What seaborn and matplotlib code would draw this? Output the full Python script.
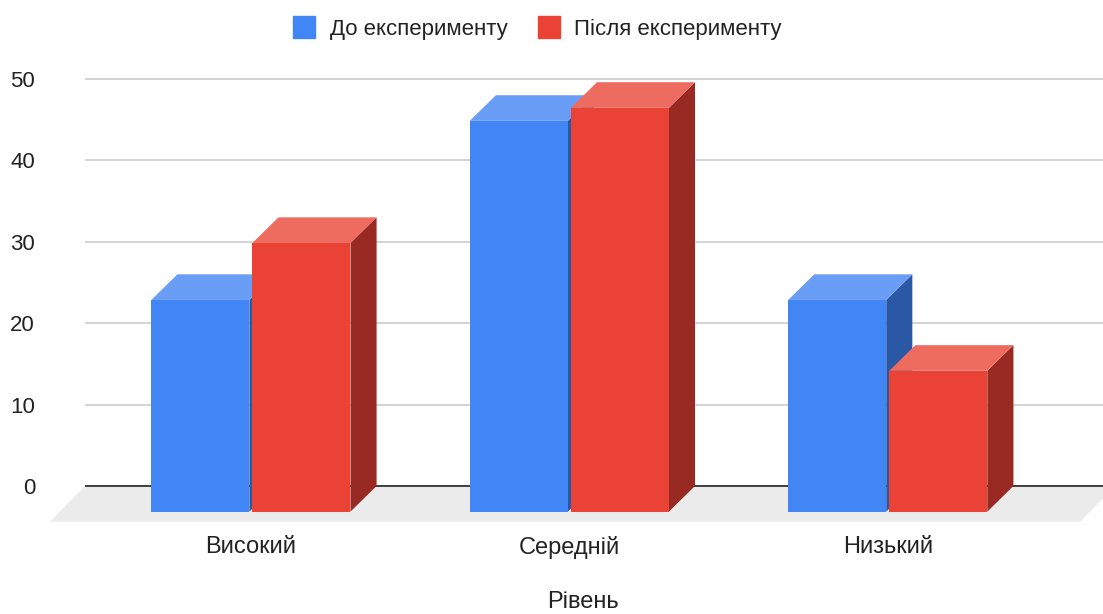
import pandas as pd
import seaborn as sns
import matplotlib.pyplot as plt
from matplotlib.patches import Polygon
from matplotlib.lines import Line2D

# Data (values read from the front faces of the 3D bars)
levels = ["Високий", "Середній", "Низький"]
series = ["До експерименту", "Після експерименту"]
before = [26, 48, 26]
after = [33, 49.6, 17.3]
y_ticks = [0, 10, 20, 30, 40, 50]

df = pd.DataFrame({
    "Рівень": levels * 2,
    "Серія": [series[0]] * len(levels) + [series[1]] * len(levels),
    "Значення": before + after,
})

# Google-Sheets-like colours: front / top / side
front = {series[0]: "#4285F4", series[1]: "#EA4335"}
top = {series[0]: "#6A9EF6", series[1]: "#EE6B60"}
side = {series[0]: "#2B58A5", series[1]: "#982A23"}

sns.set_theme(style="white")
plt.rcParams["font.family"] = ["Liberation Sans", "DejaVu Sans"]

W, H = 1103, 614
fig = plt.figure(figsize=(W / 100, H / 100), dpi=100)
# plot box in pixels: left, right, top, bottom
bl, br, bt, bb = 85, 1103, 70, 530
ax = fig.add_axes([bl / W, 1 - bb / H, (br - bl) / W, (bb - bt) / H])

# 3D depth of the bars and of the floor, in data units
DX, DY = 0.082, 3.15
FX, FY = 0.11, 4.39

sns.barplot(data=df, x="Рівень", y="Значення", hue="Серія", palette=front,
            width=0.635, gap=0.03, saturation=1, legend=False, linewidth=0, ax=ax)

ax.set_xlim(-0.603, 2.594)
ax.set_ylim(-5.41, 51.1)

for k, (name, cont) in enumerate(zip(series, ax.containers)):
    for bar in cont:
        x0, w, h = bar.get_x(), bar.get_width(), bar.get_height()
        bar.set_x(x0 - DX)
        bar.set_y(-DY)
        bar.set_zorder(3 + 2 * k + 0.2)
        bar.set_clip_on(False)
        top_face = Polygon([(x0 - DX, h - DY), (x0 - DX + w, h - DY), (x0 + w, h), (x0, h)],
                           closed=True, facecolor=top[name], lw=0, zorder=3 + 2 * k + 0.1)
        side_face = Polygon([(x0 - DX + w, -DY), (x0 - DX + w, h - DY), (x0 + w, h), (x0 + w, 0)],
                            closed=True, facecolor=side[name], lw=0, zorder=3 + 2 * k)
        ax.add_patch(side_face)
        ax.add_patch(top_face)

# floor
xl, xr = -0.603, 2.632
floor = Polygon([(xl, 0), (xr, 0), (xr - FX, -FY), (xl - FX, -FY)], closed=True,
                facecolor="#EBEBEB", lw=0, zorder=1, clip_on=False)
ax.add_patch(floor)
ax.axhline(0, color="#333333", lw=1.3, zorder=2)

ax.set_yticks(y_ticks)
ax.set_xticks([i - DX for i in range(len(levels))], labels=levels)
ax.yaxis.grid(True, color="#CCCCCC", lw=1.2)
ax.xaxis.grid(False)
ax.set_axisbelow(True)
for s in ax.spines.values():
    s.set_visible(False)
ax.tick_params(axis="y", length=0, pad=36, labelsize=16, labelcolor="#222222")
ax.tick_params(axis="x", length=0, pad=4, labelsize=17, labelcolor="#222222")
ax.set_xlabel("")
ax.set_ylabel("")

fig.text(583 / W, 1 - 602 / H, "Рівень", ha="center", va="center", fontsize=17, color="#222222")

handles = [Line2D([], [], marker="s", ls="", markersize=16.5, mfc=front[s], mec=front[s]) for s in series]
fig.legend(handles=handles, labels=series, loc="center", bbox_to_anchor=(537 / W, 1 - 29 / H),
           ncol=2, frameon=False, fontsize=16, handlelength=1.1, handletextpad=0.6,
           columnspacing=1.3, labelcolor="#222222")

fig.savefig("out.png", dpi=100)
plt.close(fig)
